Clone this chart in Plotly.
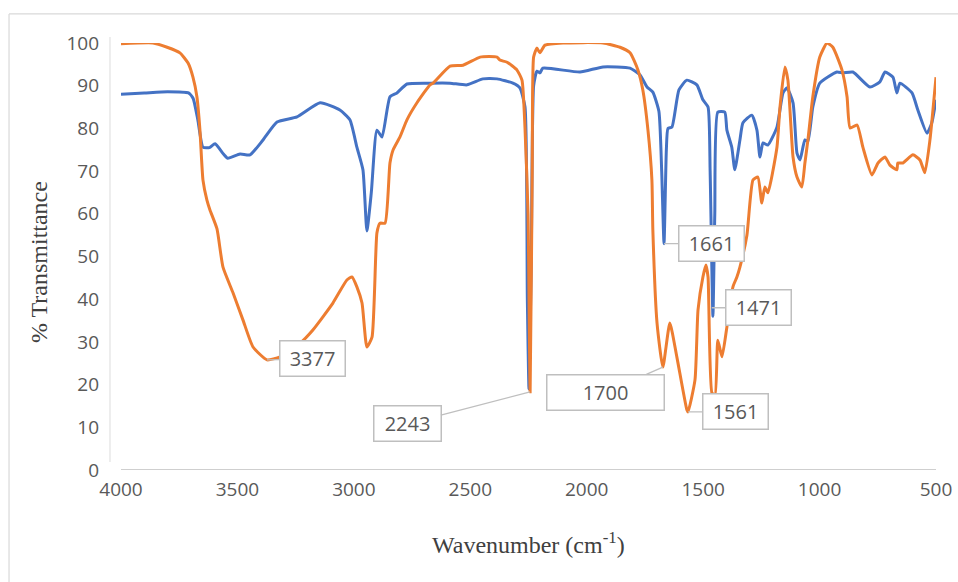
import plotly.graph_objects as go

# Blue spectrum (wavenumber cm-1, %T)
blue_wn = [4000, 3900, 3800, 3710, 3690, 3670, 3648, 3620, 3596, 3560, 3541, 3489, 3446, 3390,
           3330, 3244, 3145, 3060, 3017, 2987, 2961, 2944, 2925, 2901, 2879, 2845, 2815, 2772,
           2673, 2587, 2514, 2446, 2385, 2317, 2287, 2265, 2255, 2248, 2238, 2228, 2214, 2201,
           2188, 2029, 1930, 1814, 1771, 1741, 1716, 1690, 1678, 1668, 1658, 1651, 1634, 1604,
           1570, 1527, 1501, 1479, 1470, 1458, 1450, 1437, 1407, 1398, 1377, 1364, 1342, 1329,
           1291, 1269, 1256, 1243, 1222, 1183, 1157, 1140, 1114, 1097, 1084, 1063, 1050, 1029,
           999, 926, 900, 857, 784, 741, 719, 685, 668, 655, 603, 578, 539, 518, 500]
blue_T = [88.0, 88.3, 88.6, 88.3, 87.0, 82.0, 75.6, 75.5, 76.4, 74.0, 73.0, 74.0, 73.8, 77.3,
          81.5, 82.7, 86.0, 84.3, 82.0, 75.6, 70.3, 56.0, 65.0, 79.6, 78.0, 87.4, 88.3, 90.4,
          90.6, 90.6, 90.2, 91.6, 91.6, 90.6, 89.5, 85.0, 40.0, 19.0, 50.0, 90.0, 93.4, 93.0,
          94.1, 93.2, 94.4, 94.1, 92.5, 89.7, 88.5, 84.0, 70.0, 53.0, 75.0, 80.0, 80.3, 89.0,
          91.3, 90.2, 86.7, 85.0, 70.0, 36.0, 60.0, 83.8, 83.8, 79.6, 75.6, 70.3, 77.3, 81.3,
          83.1, 79.6, 73.3, 76.6, 76.1, 80.3, 88.3, 89.5, 86.0, 74.2, 72.6, 77.3, 77.0, 85.0,
          90.6, 93.2, 93.0, 93.2, 89.7, 90.9, 93.2, 92.0, 88.3, 90.6, 88.3, 84.3, 78.9, 81.3, 86.7]

# Orange spectrum (wavenumber cm-1, %T)
orange_wn = [4000, 3863, 3802, 3747, 3712, 3691, 3674, 3661, 3648, 3631, 3618, 3588, 3562, 3519,
             3476, 3433, 3373, 3317, 3231, 3176, 3090, 3030, 3008, 2987, 2965, 2944, 2922, 2901,
             2888, 2866, 2845, 2832, 2802, 2772, 2729, 2673, 2660, 2587, 2531, 2458, 2385, 2373,
             2342, 2300, 2278, 2265, 2252, 2243, 2234, 2228, 2214, 2201, 2179, 2102, 1930, 1857,
             1814, 1780, 1759, 1737, 1720, 1716, 1698, 1673, 1643, 1613, 1570, 1565, 1535, 1522,
             1501, 1488, 1479, 1462, 1449, 1437, 1419, 1398, 1372, 1355, 1342, 1312, 1286, 1265,
             1248, 1235, 1222, 1183, 1170, 1149, 1136, 1114, 1097, 1076, 1063, 1050, 1029, 999,
             968, 943, 904, 882, 869, 839, 814, 775, 749, 719, 698, 668, 664, 642, 599, 569, 548,
             526, 500]
orange_T = [99.8, 100.0, 99.0, 97.7, 95.3, 92.0, 87.4, 79.6, 67.9, 63.2, 60.9, 56.5, 47.5, 41.5,
            35.1, 28.8, 25.8, 26.5, 29.7, 32.8, 39.1, 44.5, 45.2, 42.9, 39.1, 28.8, 31.1, 55.5,
            57.8, 57.8, 71.9, 74.9, 78.0, 82.0, 86.0, 90.2, 90.6, 94.6, 94.8, 96.7, 96.7, 96.0,
            95.5, 93.7, 91.3, 80.0, 60.0, 18.3, 70.0, 96.7, 98.8, 97.7, 99.5, 100.0, 100.0, 99.0,
            97.7, 93.7, 89.0, 79.6, 67.9, 56.2, 34.4, 24.1, 34.4, 26.5, 14.1, 13.6, 21.1, 37.5,
            45.2, 48.0, 45.2, 18.0, 17.6, 30.4, 26.5, 33.5, 42.9, 45.2, 47.5, 55.0, 67.9, 68.6,
            62.5, 66.3, 64.9, 75.6, 85.0, 94.4, 91.3, 73.3, 68.6, 66.3, 71.9, 77.3, 87.4, 96.7,
            100.0, 99.0, 93.7, 87.4, 80.1, 80.8, 75.6, 69.1, 71.9, 73.3, 71.4, 70.3, 71.9, 71.9,
            73.8, 72.6, 69.6, 77.3, 92.0]

label_text = ["3377", "2243", "1700", "1661", "1471", "1561"]
label_wn = [3373, 2243, 1673, 1668, 1463, 1565]
label_T = [25.8, 18.3, 24.1, 53.0, 38.0, 13.6]
label_ax = [45, -123, -57, 47, 47, 47]
label_ay = [-1, 32, 25, 0, 0, 0]
label_w = [58, 60, 110, 58, 58, 58]

x_ticks = [4000, 3500, 3000, 2500, 2000, 1500, 1000, 500]
y_ticks = [0, 10, 20, 30, 40, 50, 60, 70, 80, 90, 100]

BLUE = "#4472C4"
ORANGE = "#ED7D31"

fig = go.Figure()
fig.add_trace(go.Scatter(x=blue_wn, y=blue_T, mode="lines",
                         line=dict(color=BLUE, width=3, shape="spline", smoothing=0.5),
                         showlegend=False))
fig.add_trace(go.Scatter(x=orange_wn, y=orange_T, mode="lines",
                         line=dict(color=ORANGE, width=3, shape="spline", smoothing=0.5),
                         showlegend=False))

for t, xw, yt, ax, ay, w in zip(label_text, label_wn, label_T, label_ax, label_ay, label_w):
    fig.add_annotation(x=xw, y=yt, xref="x", yref="y", text=t, showarrow=True,
                       arrowhead=0, arrowwidth=1.3, arrowcolor="#BFBFBF",
                       ax=ax, ay=ay, standoff=0,
                       font=dict(family="Open Sans", size=20, color="#595959"),
                       bgcolor="white", bordercolor="#BFBFBF", borderwidth=1.5,
                       borderpad=3, width=w, height=28)

fig.update_layout(
    width=958, height=582,
    margin=dict(l=121, r=22, t=43, b=112),
    paper_bgcolor="white", plot_bgcolor="white",
    xaxis=dict(range=[4000, 500], tickvals=x_ticks, ticktext=[str(v) for v in x_ticks],
               showgrid=False, zeroline=False, showline=False, ticks="", automargin=False,
               ticklabelstandoff=6,
               tickfont=dict(family="Open Sans", size=19, color="#595959")),
    yaxis=dict(range=[0, 100], tickvals=y_ticks, showgrid=False, zeroline=False,
               showline=False, ticks="", ticklabelstandoff=21, automargin=False,
               tickfont=dict(family="Open Sans", size=19, color="#595959")),
)

# axis titles
fig.add_annotation(x=0.4994, y=-0.171, xref="paper", yref="paper", showarrow=False,
                   text="Wavenumber (cm<sup>-1</sup>)", xanchor="center", yanchor="middle",
                   font=dict(family="Liberation Serif", size=24, color="#404040"))
fig.add_annotation(x=-0.1006, y=0.487, xref="paper", yref="paper", showarrow=False,
                   text="% Transmittance", textangle=-90, xanchor="center", yanchor="middle",
                   font=dict(family="Liberation Serif", size=24, color="#404040"))

# x axis baseline
fig.add_shape(type="line", xref="x", yref="y", x0=4000, x1=500, y0=0, y1=0,
              line=dict(color="#BFBFBF", width=1.5), layer="below")
# faint vertical axis line
fig.add_shape(type="line", xref="paper", yref="paper", x0=-0.0135, x1=-0.0135, y0=0.0187, y1=1.014,
              line=dict(color="#E8E8E8", width=1.5), layer="below")
# chart frame (light border)
fig.add_shape(type="line", xref="paper", yref="paper", x0=-0.1374, x1=1.03, y0=1.068, y1=1.068,
              line=dict(color="#D9D9D9", width=1.2))
fig.add_shape(type="line", xref="paper", yref="paper", x0=-0.1374, x1=-0.1374, y0=-0.3, y1=1.068,
              line=dict(color="#D9D9D9", width=1.2))

fig.write_html("out.html", config={"displayModeBar": False},
               post_script="document.body.style.margin='0';")
